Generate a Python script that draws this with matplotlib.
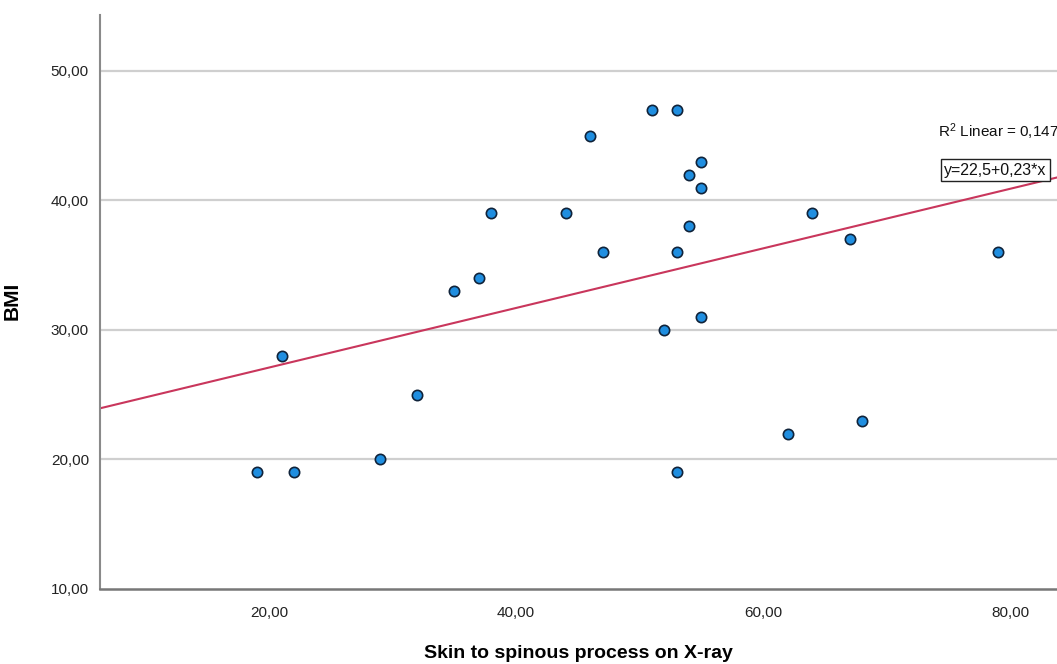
import numpy as np
import matplotlib
matplotlib.use("Agg")
import matplotlib.pyplot as plt

# data
skin_to_spinous = [19, 21, 22, 29, 32, 35, 37, 38, 44, 46, 47, 51, 53,
                   55, 54, 55, 54, 53, 55, 52, 53, 62, 64, 67, 68, 79]
bmi = [19, 28, 19, 20, 25, 33, 34, 39, 39, 45, 36, 47, 47,
       43, 42, 41, 38, 36, 31, 30, 19, 22, 39, 37, 23, 36]

# fit line as printed on the chart
fit_intercept = 22.5
fit_slope = 0.23
r2_text = "R$^2$ Linear = 0,147"
fit_text = "y=22,5+0,23*x"

x_ticks = [20, 40, 60, 80]
y_ticks = [10, 20, 30, 40, 50]


def comma_fmt(v, pos=None):
    return f"{v:.2f}".replace(".", ",")


def main():
    plt.rcParams['font.family'] = ['Liberation Sans', 'DejaVu Sans']
    plt.rcParams['mathtext.fontset'] = 'custom'
    plt.rcParams['mathtext.rm'] = 'Liberation Sans'
    plt.rcParams['mathtext.it'] = 'Liberation Sans'

    fig = plt.figure(figsize=(10.57, 6.64), dpi=100)
    ax = fig.add_axes([0.0946, 0.113, 0.9054, 0.864])

    xlim = (6.3, 83.8)
    ax.set_xlim(*xlim)
    ax.set_ylim(10, 54.3)

    # horizontal grid lines
    for yv in y_ticks[1:]:
        ax.axhline(yv, color='#cfcfcf', lw=1.6, zorder=1)

    # regression line
    xs = np.array(xlim)
    ax.plot(xs, fit_intercept + fit_slope * xs, color='#c9365c', lw=1.5, zorder=2)

    # points
    ax.scatter(skin_to_spinous, bmi, s=55, color='#1f8ee0',
               edgecolors='#10233a', linewidths=1.2, zorder=3)

    ax.set_xticks(x_ticks)
    ax.set_yticks(y_ticks)
    ax.xaxis.set_major_formatter(matplotlib.ticker.FuncFormatter(comma_fmt))
    ax.yaxis.set_major_formatter(matplotlib.ticker.FuncFormatter(comma_fmt))
    ax.tick_params(axis='both', length=0, labelsize=11, colors='#222222')
    ax.tick_params(axis='x', pad=12)
    ax.tick_params(axis='y', pad=8)

    for side in ['top', 'right']:
        ax.spines[side].set_visible(False)
    ax.spines['left'].set_color('#8a8a8a')
    ax.spines['left'].set_linewidth(1.5)
    ax.spines['bottom'].set_color('#777777')
    ax.spines['bottom'].set_linewidth(1.8)

    ax.set_xlabel("Skin to spinous process on X-ray", fontsize=14, fontweight='bold')
    ax.xaxis.set_label_coords(0.5, -0.098)
    ax.set_ylabel("BMI", fontsize=15, fontweight='bold')
    ax.yaxis.set_label_coords(-0.0815, 0.503)

    # fit annotations
    ax.text(0.876, 0.797, r2_text, transform=ax.transAxes, fontsize=11,
            ha='left', va='center', color='#111111')
    ax.text(0.882, 0.730, fit_text, transform=ax.transAxes, fontsize=11.5,
            ha='left', va='center', color='#111111',
            bbox=dict(boxstyle='square,pad=0.2', fc='white', ec='#222222', lw=1.0))

    fig.savefig("out.png", dpi=100, facecolor='white')


if __name__ == '__main__':
    main()
